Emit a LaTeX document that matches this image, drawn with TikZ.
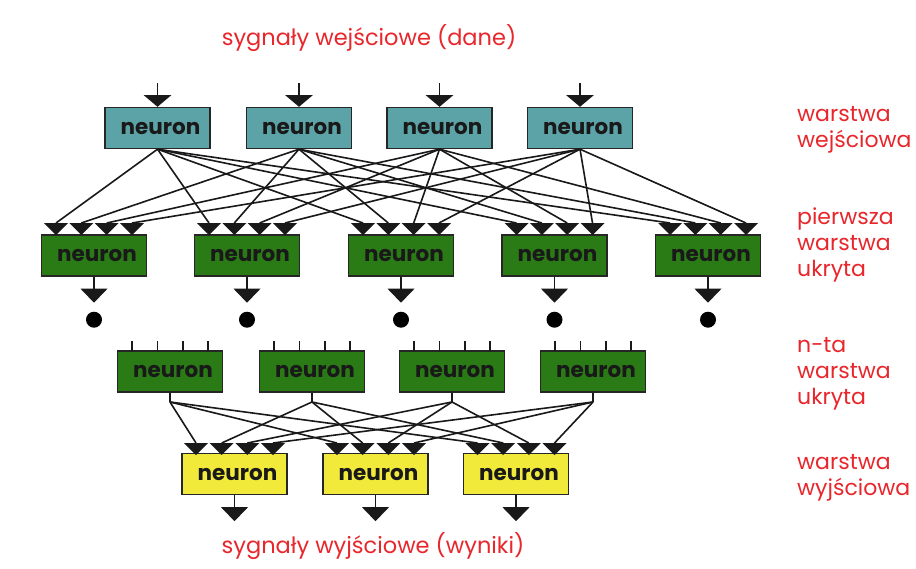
\documentclass[tikz,border=0pt]{standalone}
\usepackage{fontspec}
\usetikzlibrary{calc}
\setmainfont{Poppins}
\definecolor{inteal}{RGB}{92,163,168}
\definecolor{hidgreen}{RGB}{42,122,22}
\definecolor{outyellow}{RGB}{242,234,58}
\definecolor{labred}{RGB}{232,38,43}
\begin{document}
\begin{tikzpicture}[x=1pt,y=-1pt,
  neuronbox/.style={draw=black!85, line width=1.4pt, minimum width=105pt, minimum height=41pt,
    inner sep=0pt, font=\fontsize{21.5}{21.5}\selectfont\bfseries, text=black!90},
  inbox/.style={neuronbox, fill=inteal},
  hidbox/.style={neuronbox, fill=hidgreen},
  outbox/.style={neuronbox, fill=outyellow},
  wire/.style={line width=1.6pt, black!90},
  label/.style={text=labred, font=\fontsize{22}{26}\selectfont, align=left, inner sep=0pt},
  title/.style={text=labred, font=\fontsize{22.5}{24}\selectfont, inner sep=0pt},
  % small downward triangle whose flat base is at the origin
  intip/.pic={\fill[black!90] (-12,0) -- (12,0) -- (0,12) -- cycle;},
  bigtip/.pic={\fill[black!90] (-13.5,0) -- (13.5,0) -- (0,14) -- cycle;}
]
\useasboundingbox[fill=white] (0,0) rectangle (916,568);

% ---- titles ----
\node[title, anchor=base] (tin) at (369,45) {sygnały wejściowe (dane)};
\node[title, anchor=base] (tout) at (373,553) {sygnały wyjściowe (wyniki)};

% ---- layer names (anchored at the baseline of the last line) ----
\node[label, anchor=base west] (l1) at (797,147) {warstwa\\wejściowa};
\node[label, anchor=base west] (l2) at (797,276) {pierwsza\\warstwa\\ukryta};
\node[label, anchor=base west] (l3) at (797,404) {n-ta\\warstwa\\ukryta};
\node[label, anchor=base west] (l4) at (797,495) {warstwa\\wyjściowa};

% ---- input layer ----
\foreach \k/\x in {1/157.5,2/299,3/439.5,4/580}{
  \node[inbox] (i\k) at (\x,128) {\hspace{6pt}neuron};
  \coordinate (in\k) at (\x,83);
  \coordinate (inb\k) at (\x,95);
  \draw[wire] (in\k) -- (inb\k);
  \fill[black!90] (\x-14,95) -- (\x+14,95) -- (i\k.north) -- cycle;
}

% ---- first hidden layer ----
\foreach \j/\x in {1/94,2/247,3/401,4/554.5,5/708}{
  \node[hidbox] (h\j) at (\x,255.5) {\hspace{6pt}neuron};
  \foreach \k/\o in {1/-38,2/-12.7,3/12.7,4/38}{
    \coordinate (h\j t\k) at (\x+\o,223);
    \draw[wire] (i\k.south) -- (h\j t\k);
  }
}
\foreach \j in {1,...,5}{
  \foreach \k in {1,...,4}{
    \pic at (h\j t\k) {intip};
  }
  \coordinate (h\j o) at ($(h\j.south)+(0,12)$);
  \draw[wire] (h\j.south) -- (h\j o);
  \pic at (h\j o) {bigtip};
  \fill[black] ($(h\j.south)+(0,43)$) circle (8pt);
}

% ---- n-th hidden layer ----
\foreach \k/\x in {1/170,2/312,3/452,4/593}{
  \node[hidbox] (n\k) at (\x,371.5) {\hspace{6pt}neuron};
  \foreach \o in {-38,-12.7,12.7,38}{
    \draw[wire] (\x+\o,351) -- (\x+\o,341);
  }
  \coordinate (n\k s) at (\x,402);
  \draw[wire] (n\k.south) -- (n\k s);
}

% ---- output layer ----
\foreach \j/\x in {1/234.5,2/375.5,3/516}{
  \node[outbox] (o\j) at (\x,474) {\hspace{6pt}neuron};
  \foreach \k/\o in {1/-38.5,2/-12.8,3/12.8,4/38.5}{
    \coordinate (o\j t\k) at (\x+\o,443);
    \draw[wire] (n\k s) -- (o\j t\k);
  }
}
\foreach \j in {1,2,3}{
  \foreach \k in {1,...,4}{
    \pic at (o\j t\k) {intip};
  }
  \coordinate (o\j o) at ($(o\j.south)+(0,12)$);
  \draw[wire] (o\j.south) -- (o\j o);
  \pic at (o\j o) {bigtip};
}
\end{tikzpicture}
\end{document}
